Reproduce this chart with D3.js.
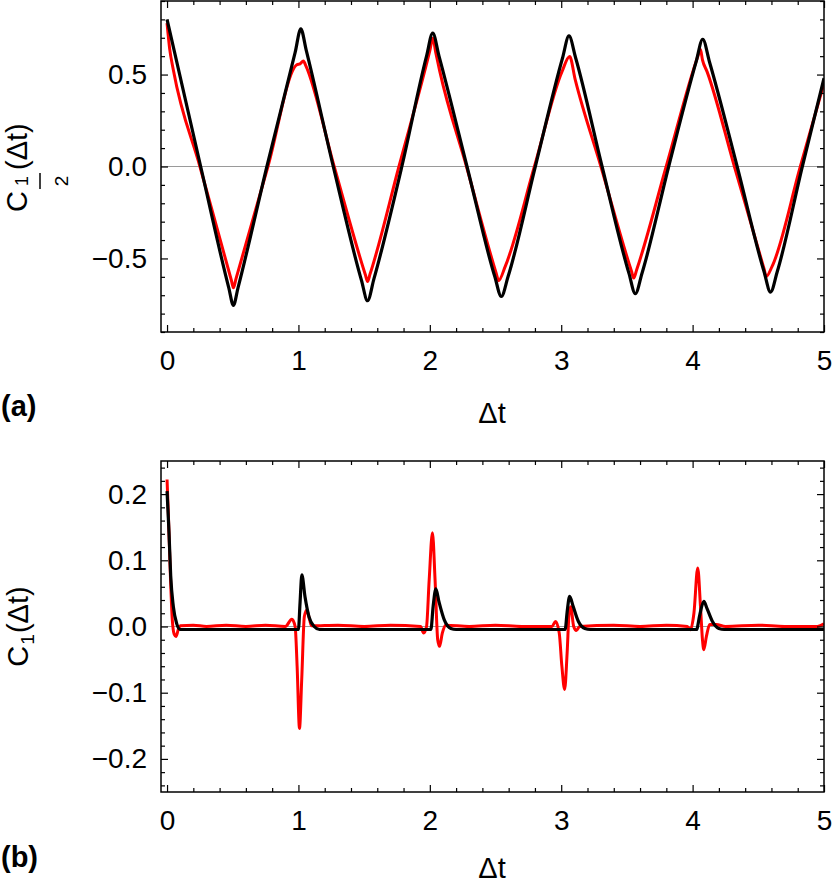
<!DOCTYPE html>
<meta charset="utf-8">
<script src="https://cdn.jsdelivr.net/npm/d3@7"></script>
<style>
 body { margin: 0; background: #fff; }
 svg text { font-family: "Liberation Sans", Arial, Helvetica, sans-serif; }
</style>
<div id="container"></div>
<script>
 // ---- values ----
 var xTicks = [0, 1, 2, 3, 4, 5];
 var xTickLabels = ["0", "1", "2", "3", "4", "5"];
 var yTicksA = [-0.5, 0, 0.5];
 var yTickLabelsA = ["\u22120.5", "0.0", "0.5"];
 var yTicksB = [-0.2, -0.1, 0, 0.1, 0.2];
 var yTickLabelsB = ["\u22120.2", "\u22120.1", "0.0", "0.1", "0.2"];

 // panel (a): [Δt, C(Δt)]
 var topBlack = [
   [0, 0.80], [0.256, 0], [0.47, -0.66], [0.505, -0.755], [0.54, -0.66], [0.76, 0],
   [0.975, 0.62], [1.018, 0.748], [1.06, 0.63], [1.265, 0], [1.48, -0.62], [1.526, -0.73],
   [1.575, -0.61], [1.787, 0], [1.975, 0.60], [2.022, 0.725], [2.07, 0.60], [2.283, 0],
   [2.495, -0.60], [2.544, -0.707], [2.595, -0.60], [2.803, 0], [3.01, 0.59], [3.059, 0.71],
   [3.11, 0.59], [3.311, 0], [3.515, -0.58], [3.564, -0.692], [3.615, -0.58], [3.818, 0],
   [4.027, 0.57], [4.077, 0.692], [4.128, 0.57], [4.339, 0], [4.543, -0.57], [4.593, -0.683],
   [4.645, -0.57], [4.835, 0], [5.0, 0.48]
 ];
 var topRed = [
   [0, 0.78], [0.02, 0.64], [0.048, 0.525], [0.25, 0], [0.49, -0.62], [0.505, -0.66],
   [0.525, -0.61], [0.768, 0], [0.988, 0.553], [1.012, 0.558], [1.038, 0.574], [1.055, 0.55],
   [1.272, 0], [1.51, -0.59], [1.526, -0.625], [1.545, -0.585], [1.765, 0], [2.0, 0.63],
   [2.023, 0.698], [2.045, 0.62], [2.075, 0.52], [2.279, 0], [2.505, -0.58], [2.523, -0.621],
   [2.574, -0.543], [2.796, 0], [3.006, 0.516], [3.064, 0.598], [3.107, 0.471], [3.302, 0],
   [3.535, -0.57], [3.552, -0.607], [3.575, -0.56], [3.799, 0], [4.04, 0.60], [4.059, 0.638],
   [4.075, 0.58], [4.11, 0.516], [4.318, 0], [4.545, -0.56], [4.56, -0.598], [4.605, -0.543],
   [4.82, 0], [5.0, 0.453]
 ];

 // panel (b)
 var botBlack = [
   [0, 0.2045], [0.015, 0.142], [0.028, 0.076], [0.048, 0.03], [0.074, 0.004], [0.1, -0.0045],
   [1.0, -0.0045], [1.012, 0.035], [1.026, 0.078], [1.05, 0.045], [1.08, 0.015], [1.12, 0.0],
   [1.16, -0.0045], [2.008, -0.0045], [2.025, 0.03], [2.046, 0.0567], [2.07, 0.037],
   [2.11, 0.01], [2.16, -0.003], [2.2, -0.0045], [3.03, -0.0045], [3.045, 0.022], [3.064, 0.0455],
   [3.09, 0.031], [3.13, 0.008], [3.18, -0.003], [3.22, -0.0045], [4.03, -0.0045], [4.055, 0.018],
   [4.085, 0.038], [4.11, 0.027], [4.15, 0.008], [4.2, -0.003], [4.24, -0.0045], [5.0, -0.0045]
 ];
 var botRed = [
   [0, 0.222], [0.01, 0.17], [0.025, 0.08], [0.04, 0.01], [0.055, -0.012], [0.068, -0.015],
   [0.085, -0.005], [0.1, 0.001], [0.2, 0.002], [0.3, 0.0], [0.45, 0.002], [0.6, 0.0],
   [0.75, 0.002], [0.9, 0.0], [0.95, 0.011], [0.975, 0.0], [0.99, -0.06], [1.008, -0.154],
   [1.025, -0.08], [1.045, 0.015], [1.064, 0.025], [1.085, 0.01], [1.1, 0.001], [1.3, 0.002],
   [1.5, 0.0], [1.7, 0.002], [1.93, 0.0], [1.953, -0.01], [1.975, 0.0], [1.995, 0.07],
   [2.02, 0.1415], [2.04, 0.07], [2.06, -0.02], [2.074, -0.03], [2.095, -0.01], [2.12, 0.002],
   [2.3, 0.0], [2.5, 0.002], [2.7, 0.0], [2.93, 0.0], [2.957, 0.0076], [2.985, -0.01],
   [3.005, -0.06], [3.026, -0.095], [3.045, -0.04], [3.06, 0.02], [3.072, 0.03], [3.095, 0.0],
   [3.115, -0.006], [3.14, 0.0], [3.4, 0.002], [3.6, 0.0], [3.8, 0.002], [3.96, 0.0],
   [3.983, -0.005], [4.01, 0.02], [4.039, 0.0885], [4.06, 0.03], [4.075, -0.02], [4.085, -0.035],
   [4.105, -0.015], [4.13, 0.003], [4.18, 0.003], [4.25, 0.0], [4.5, 0.002], [4.7, 0.0],
   [4.95, 0.0], [5.0, 0.004]
 ];

 var width = 832, height = 884;
 var fontTick = 28, fontLabel = 29;

 var svg = d3.select("#container").append("svg")
             .attr("width", width)
             .attr("height", height);

 var x = d3.scaleLinear().domain([-0.046, 5]).range([161, 824]);
 var xMinor = d3.range(0, 5.001, 0.2).map(v => Math.round(v * 10) / 10).filter(v => v % 1 !== 0);

 function panel(id, y, yTicks, yTickLabels, yMinor, series) {
     var g = svg.append("g").attr("class", id);
     var top = y.range()[1], bottom = y.range()[0];
     var left = x.range()[0], right = x.range()[1];

     g.append("clipPath").attr("id", "clip-" + id)
      .append("rect").attr("x", left).attr("y", top)
      .attr("width", right - left).attr("height", bottom - top);

     // zero line
     g.append("line")
      .attr("x1", left).attr("x2", right)
      .attr("y1", y(0)).attr("y2", y(0))
      .attr("stroke", "#9a9a9a").attr("stroke-width", 1);

     var line = d3.line()
                  .x(d => x(d[0]))
                  .y(d => y(d[1]))
                  .curve(d3.curveMonotoneX);

     series.forEach(function (s) {
         g.append("path")
          .datum(s.data)
          .attr("clip-path", `url(#clip-${id})`)
          .attr("fill", "none")
          .attr("stroke", s.color)
          .attr("stroke-width", s.width)
          .attr("stroke-linejoin", "round")
          .attr("d", line);
     });

     function style(a) {
         a.select(".domain").remove();
         a.attr("font-size", fontTick)
          .attr("font-family", null);
         a.selectAll("line").attr("stroke-width", 1.2);
     }

     // major ticks, labelled on bottom and left
     g.append("g").attr("transform", `translate(0,${bottom})`)
      .call(d3.axisBottom(x).tickValues(xTicks).tickSize(-7).tickPadding(18)
              .tickFormat((d, i) => xTickLabels[i]))
      .call(style);
     g.append("g").attr("transform", `translate(${left},0)`)
      .call(d3.axisLeft(y).tickValues(yTicks).tickSize(-7).tickPadding(14)
              .tickFormat((d, i) => yTickLabels[i]))
      .call(style);
     // mirrored ticks on top and right, no labels
     g.append("g").attr("transform", `translate(0,${top})`)
      .call(d3.axisTop(x).tickValues(xTicks).tickSize(-7).tickFormat(""))
      .call(style);
     g.append("g").attr("transform", `translate(${right},0)`)
      .call(d3.axisRight(y).tickValues(yTicks).tickSize(-7).tickFormat(""))
      .call(style);
     // minor ticks
     g.append("g").attr("transform", `translate(0,${bottom})`)
      .call(d3.axisBottom(x).tickValues(xMinor).tickSize(-4).tickFormat("")).call(style);
     g.append("g").attr("transform", `translate(0,${top})`)
      .call(d3.axisTop(x).tickValues(xMinor).tickSize(-4).tickFormat("")).call(style);
     g.append("g").attr("transform", `translate(${left},0)`)
      .call(d3.axisLeft(y).tickValues(yMinor).tickSize(-4).tickFormat("")).call(style);
     g.append("g").attr("transform", `translate(${right},0)`)
      .call(d3.axisRight(y).tickValues(yMinor).tickSize(-4).tickFormat("")).call(style);

     // frame
     g.append("rect")
      .attr("x", left).attr("y", top)
      .attr("width", right - left).attr("height", bottom - top)
      .attr("fill", "none").attr("stroke", "#000").attr("stroke-width", 1.5);

     return g;
 }

 // ---- panel (a) ----
 var yA = d3.scaleLinear().domain([-0.9, 0.9]).range([332, 1]);
 var yMinorA = d3.range(-0.9, 0.901, 0.1).map(v => Math.round(v * 10) / 10)
                 .filter(v => yTicksA.indexOf(v) < 0);
 var gA = panel("a", yA, yTicksA, yTickLabelsA, yMinorA, [
     {data: topRed, color: "#ff0000", width: 3},
     {data: topBlack, color: "#000", width: 3.2}
 ]);

 // y label  C_{1/2}(Δt)
 var labA = svg.append("g").attr("transform", "translate(27,212) rotate(-90)")
               .attr("font-size", fontLabel);
 labA.append("text").attr("x", 0).attr("y", 0).text("C");
 labA.append("text").attr("x", 31).attr("y", 1).attr("font-size", 18)
     .attr("text-anchor", "middle").text("1");
 labA.append("line").attr("x1", 23).attr("x2", 39).attr("y1", 13).attr("y2", 13)
     .attr("stroke", "#000").attr("stroke-width", 1.5);
 labA.append("text").attr("x", 31).attr("y", 41).attr("font-size", 19)
     .attr("text-anchor", "middle").text("2");
 labA.append("text").attr("x", 42).attr("y", 0).text("(\u0394t)");

 svg.append("text").attr("x", 492).attr("y", 423).attr("text-anchor", "middle")
    .attr("font-size", fontLabel).text("\u0394t");
 svg.append("text").attr("x", 1).attr("y", 416).attr("font-size", fontLabel)
    .attr("font-weight", "bold").text("(a)");

 // ---- panel (b) ----
 var yB = d3.scaleLinear().domain([-0.25, 0.25]).range([792, 461]);
 var yMinorB = d3.range(-0.24, 0.2401, 0.02).map(v => Math.round(v * 100) / 100)
                 .filter(v => Math.abs(Math.round(v * 10) - v * 10) > 1e-6);
 var gB = panel("b", yB, yTicksB, yTickLabelsB, yMinorB, [
     {data: botRed, color: "#ff0000", width: 3},
     {data: botBlack, color: "#000", width: 3.2}
 ]);

 var labB = svg.append("text")
               .attr("transform", `translate(28,${yB(0)}) rotate(-90)`)
               .attr("text-anchor", "middle")
               .attr("font-size", fontLabel);
 labB.append("tspan").text("C");
 labB.append("tspan").attr("font-size", 19).attr("dy", 6).attr("dx", 1).text("1");
 labB.append("tspan").attr("dy", -6).attr("dx", 1).text("(\u0394t)");

 svg.append("text").attr("x", 492).attr("y", 878).attr("text-anchor", "middle")
    .attr("font-size", fontLabel).text("\u0394t");
 svg.append("text").attr("x", 1).attr("y", 867).attr("font-size", fontLabel)
    .attr("font-weight", "bold").text("(b)");
</script>
